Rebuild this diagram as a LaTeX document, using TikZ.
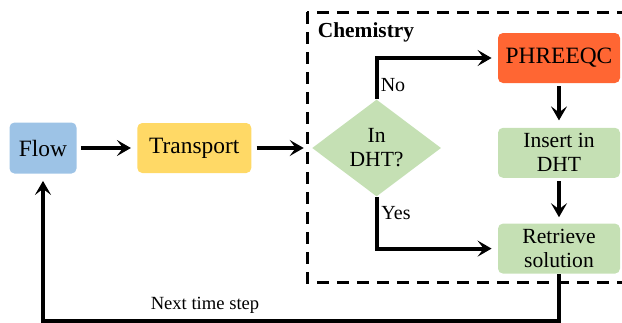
\documentclass[tikz,border=0pt]{standalone}
\usepackage{fontspec}
\setmainfont{Liberation Serif}
\usepackage{xcolor}
\usepackage{tikz}
\usetikzlibrary{shapes.geometric,arrows.meta,positioning,calc}
\definecolor{flowblue}{HTML}{9DC3E6}
\definecolor{transportyellow}{HTML}{FFD966}
\definecolor{chemgreen}{HTML}{C5E0B4}
\definecolor{phreeqcorange}{HTML}{FF6633}

\begin{document}
\begin{tikzpicture}[
    x=0.5pt, y=-0.5pt,
    node distance=30pt,
    box/.style={rectangle, rounded corners=2.5pt, minimum height=25pt, align=center, inner sep=1pt, font=\fontsize{11.7}{13}\selectfont},
    chembox/.style={box, fill=chemgreen, minimum width=61pt, font=\fontsize{10.8}{12}\selectfont},
    decision/.style={diamond, fill=chemgreen, minimum width=64.5pt, minimum height=48.5pt, aspect=1.33, inner sep=0pt, align=center, font=\fontsize{10.8}{12}\selectfont},
    arrow/.style={-{Stealth[length=7pt, width=8pt, inset=3pt]}, line width=2pt},
    dashbox/.style={dash pattern=on 6pt off 4pt, line width=1.5pt},
    lbl/.style={font=\fontsize{10}{12}\selectfont}
]
    \useasboundingbox (0,0) rectangle (622,322);

    % Chemistry frame
    \draw[dashbox] (307,12) rectangle (628,282);
    \node[font=\bfseries\fontsize{10.7}{12}\selectfont] (chemlbl) at (366,32) {Chemistry};

    % Flow and transport
    \node[box, fill=flowblue, minimum width=33.5pt, minimum height=25.5pt] (flow) at (43,148) {Flow};
    \node[box, fill=transportyellow, minimum width=57pt, right=of flow] (transport) {Transport};

    % Lookup
    \node[decision, right=of transport] (indht) {In\\DHT?};

    % Chemistry steps
    \node[box, fill=phreeqcorange, minimum width=61pt] (phreeqc) at (559,58) {PHREEQC};
    \node[chembox, below=22pt of phreeqc] (insert) {Insert in\\DHT};
    \node[chembox, below=22.5pt of insert] (retrieve) {Retrieve\\solution};

    % Arrows
    \draw[arrow, shorten <=2pt, shorten >=3pt] (flow) -- (transport);
    \draw[arrow, shorten <=2.5pt, shorten >=4pt] (transport) -- (indht);
    \draw[arrow, shorten >=3pt] (indht.north) |- (phreeqc.west);
    \draw[arrow, shorten >=3pt] (indht.south) |- (retrieve.west);
    \draw[arrow, shorten <=1.5pt, shorten >=3.5pt] (phreeqc) -- (insert);
    \draw[arrow, shorten <=1.5pt, shorten >=3pt] (insert) -- (retrieve);
    \draw[arrow, shorten >=3.5pt] (retrieve.south) -- ++(0,47) -| (flow.south);

    % Labels
    \node[lbl] (nolbl) at (393,85) {No};
    \node[lbl] (yeslbl) at (396,213) {Yes};
    \node[lbl, font=\fontsize{9.3}{11}\selectfont] (nextlbl) at (205,305) {Next time step};

\end{tikzpicture}
\end{document}
